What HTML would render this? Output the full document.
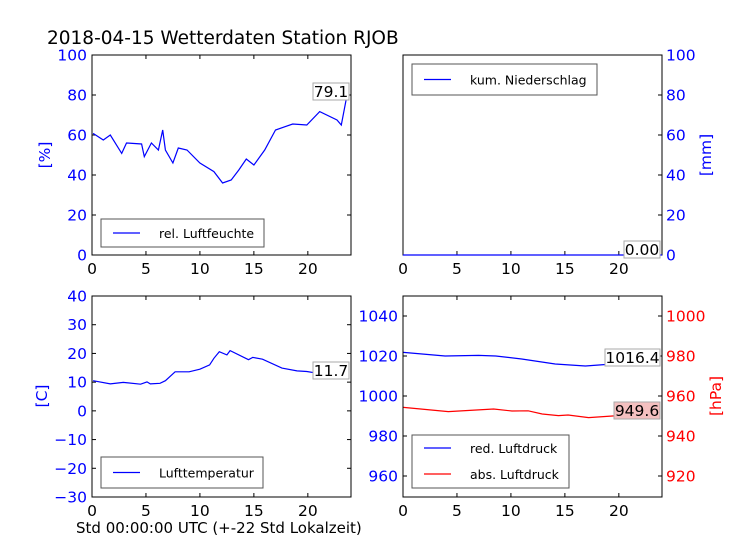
<!DOCTYPE html>
<html><head><meta charset="utf-8"><style>
body{margin:0;background:#fff}
svg{display:block;font-family:"DejaVu Sans","Liberation Sans",sans-serif}
</style></head><body>
<svg id="c" width="736" height="552" viewBox="0 0 736 552" xmlns="http://www.w3.org/2000/svg">
<rect width="736" height="552" fill="#fff"/>
<text x="47" y="44" font-size="18.5" fill="#000">2018-04-15 Wetterdaten Station RJOB</text>
<text x="76" y="533" font-size="15" fill="#000">Std 00:00:00 UTC (+-22 Std Lokalzeit)</text>
</svg>
<script>
const humHours=[0.1,1.05,1.7,2.75,3.2,4.6,4.85,5.5,6.15,6.55,6.8,7.5,8.0,8.8,10.0,11.3,12.1,12.9,13.6,14.3,15.0,16.0,17.0,18.6,19.9,21.1,22.7,23.1,23.6];
const humVals=[60.8,57.5,60,50.8,56,55.5,49.2,56,52.5,62.5,52.5,46,53.5,52.5,46,41.7,36,37.5,42.5,48,45,52.5,62.5,65.5,65,71.7,67.5,65,79.1];
const rainHours=[0,24];
const rainVals=[0,0];
const tempHours=[0.1,1.7,2.9,4.5,5.1,5.4,6.3,6.8,7.7,9.0,10.0,10.9,11.3,11.8,12.5,12.8,14.5,14.9,15.8,17.6,19.0,19.9,21.2,22.5,23.1,23.7];
const tempVals=[10.5,9.4,9.9,9.3,10.1,9.4,9.6,10.5,13.6,13.6,14.5,16,18.3,20.6,19.5,21,17.8,18.6,18,14.9,13.9,13.7,12.9,13.6,13.3,11.7];
const presHours=[0.05,3.9,7.0,8.6,11.0,14.1,16.9,19.4,21.0,23.7];
const redVals=[1021.8,1020,1020.3,1020,1018.5,1016,1015,1016,1016.6,1016.4];
const absHours=[0.05,4.2,8.4,10.1,11.6,12.9,14.4,15.3,17.2,19.4,20.9,23.7];
const absVals=[954.3,952.2,953.5,952.5,952.6,951,950.2,950.5,949.2,950,950.4,949.6];
const xTicks=[0,5,10,15,20];
const humTicks=[0,20,40,60,80,100];
const tempTicks=[-30,-20,-10,0,10,20,30,40];
const presLTicks=[960,980,1000,1020,1040];
const presRTicks=[920,940,960,980,1000];

const S=document.getElementById('c');
const NS='http://www.w3.org/2000/svg';
function fmt(v){return v<0?'\u2212'+Math.abs(v):String(v);}
function mk(tag,attrs,txt){const e=document.createElementNS(NS,tag);for(const k in attrs)e.setAttribute(k,attrs[k]);if(txt!==undefined)e.textContent=txt;S.appendChild(e);return e;}
function lin(d0,d1,r0,r1){return v=>r0+(v-d0)/(d1-d0)*(r1-r0);}

function panel(p){
  const X=lin(0,24,p.x0,p.x1);
  const g=mk('rect',{x:p.x0,y:p.y0,width:p.x1-p.x0,height:p.y1-p.y0,fill:'none',stroke:'#000','stroke-width':1});
  
  
  xTicks.forEach(t=>{
    const x=X(t);
    const l=mk('line',{x1:x,y1:p.y1,x2:x,y2:p.y1-4,stroke:'#000'});
    
    
    if(p.topTicks){const l2=mk('line',{x1:x,y1:p.y0,x2:x,y2:p.y0+4,stroke:'#000'});
      
      }
    if(p.xLabels){const t2=mk('text',{x:x,y:p.y1+19,'font-size':15.5,'text-anchor':'middle',fill:'#000'},fmt(t));
      
      }
  });
  return X;
}
function yaxis(p,Y,ticks,side,color,leftTicksToo){
  ticks.forEach(t=>{
    const y=Y(t);
    if(side==='left'){
      const l=mk('line',{x1:p.x0,y1:y,x2:p.x0+4,y2:y,stroke:'#000'});
      
      
      const tx=mk('text',{x:p.x0-5,y:y+5.5,'font-size':15.5,'text-anchor':'end',fill:color},fmt(t));
      
      
      if(leftTicksToo){const l2=mk('line',{x1:p.x1,y1:y,x2:p.x1-4,y2:y,stroke:'#000'});
        
        }
    }else{
      const l=mk('line',{x1:p.x1,y1:y,x2:p.x1-4,y2:y,stroke:'#000'});
      
      
      const tx=mk('text',{x:p.x1+4,y:y+5.5,'font-size':15.5,'text-anchor':'start',fill:color},fmt(t));
      
      
    }
  });
}
function series(X,Y,hs,vs,color,name){
  const d=hs.map((h,i)=>(i?'L':'M')+X(h).toFixed(1)+' '+Y(vs[i]).toFixed(1)).join(' ');
  const e=mk('path',{d:d,fill:'none',stroke:color,'stroke-width':1.2});
  
  
}
function valbox(x,y,w,txt,fill,name){
  const r=mk('rect',{x:x,y:y,width:w,height:17,fill:fill,stroke:'#aaa','stroke-width':1});
  
  
  const t=mk('text',{x:x+w/2,y:y+14,'font-size':15.5,'text-anchor':'middle',fill:'#000'},txt);
  
  
}
function legend(x,y,w,h,items){
  const r=mk('rect',{x:x,y:y,width:w,height:h,fill:'#fff',stroke:'#555','stroke-width':1});
  
  
  items.forEach((it,i)=>{
    const cy=y+(items.length>1?13+i*26:h/2);
    const l=mk('line',{x1:x+12,y1:cy,x2:x+39,y2:cy,stroke:it.c,'stroke-width':1.2});
    
    
    const t=mk('text',{x:x+58,y:cy+5,'font-size':12.5,fill:'#000'},it.t);
    
    
  });
}
function ylabel(x,y,txt,color,name){
  const t=mk('text',{x:x,y:y,'font-size':15.5,'text-anchor':'middle',fill:color,transform:'rotate(-90 '+x+' '+y+')'},txt);
  
  
}

const p1={x0:92,x1:351,y0:55,y1:255,name:'humidity-panel',topTicks:true,xLabels:true};
const X1=panel(p1);const Y1=lin(0,100,255,55);
yaxis(p1,Y1,humTicks,'left','#0000ff',true);
series(X1,Y1,humHours,humVals,'#0000ff','humidity-line');
valbox(313,83,36,'79.1','#fff','humidity-last-value');
legend(101,219,163,28,[{t:'rel. Luftfeuchte',c:'#0000ff'}]);
ylabel(50,155,'[%]','#0000ff','y-axis-title-humidity');

const p2={x0:403,x1:662,y0:55,y1:255,name:'rain-panel',topTicks:false,xLabels:true};
const X2=panel(p2);const Y2=lin(0,100,255,55);
yaxis(p2,Y2,humTicks,'right','#0000ff');
series(X2,Y2,rainHours,rainVals,'#0000ff','rain-line');
valbox(624,241,36,'0.00','#fff','rain-last-value');
legend(412,64,185,31,[{t:'kum. Niederschlag',c:'#0000ff'}]);
ylabel(711,155,'[mm]','#0000ff','y-axis-title-rain');

const p3={x0:92,x1:351,y0:296,y1:497,name:'temperature-panel',topTicks:true,xLabels:true};
const X3=panel(p3);const Y3=lin(-30,40,497,296);
yaxis(p3,Y3,tempTicks,'left','#0000ff',true);
series(X3,Y3,tempHours,tempVals,'#0000ff','temperature-line');
valbox(313,362,36,'11.7','#fff','temperature-last-value');
legend(101,457,162,31,[{t:'Lufttemperatur',c:'#0000ff'}]);
ylabel(47,396,'[C]','#0000ff','y-axis-title-temperature');

const p4={x0:403,x1:662,y0:296,y1:497,name:'pressure-panel',topTicks:true,xLabels:true};
const X4=panel(p4);const YL=lin(950,1050,496,296);const YR=lin(910,1010,496,296);
yaxis(p4,YL,presLTicks,'left','#0000ff',false);
yaxis(p4,YR,presRTicks,'right','#ff0000');
series(X4,YL,presHours,redVals,'#0000ff','reduced-pressure-line');
series(X4,YR,absHours,absVals,'#ff0000','absolute-pressure-line');
valbox(605,349,55,'1016.4','#fff','reduced-pressure-last-value');
valbox(614,402,46,'949.6','#f4c0c0','absolute-pressure-last-value');
legend(412,435,157,53,[{t:'red. Luftdruck',c:'#0000ff'},{t:'abs. Luftdruck',c:'#ff0000'}]);
ylabel(721,396,'[hPa]','#ff0000','y-axis-title-pressure');
</script>
</body></html>
